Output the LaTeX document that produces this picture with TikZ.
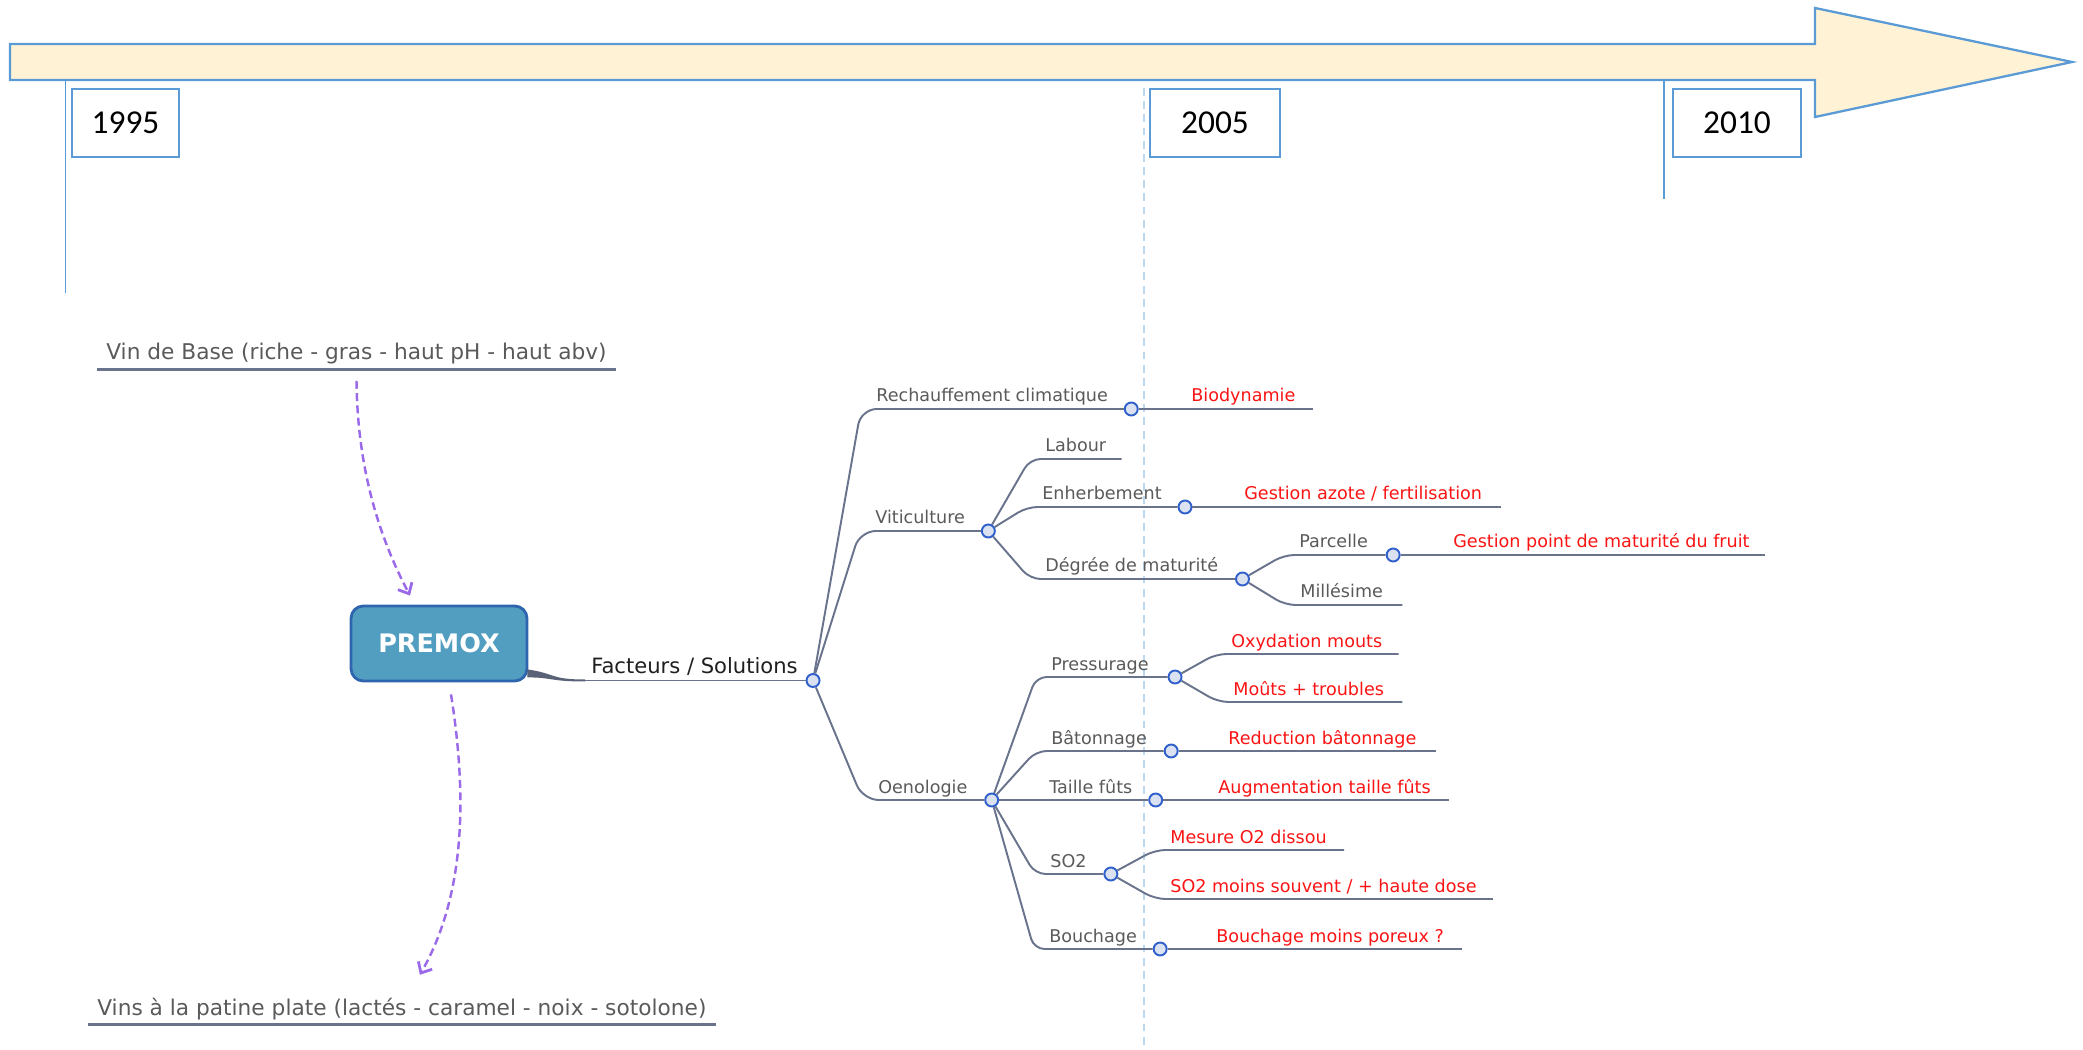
\documentclass[tikz,border=0pt]{standalone}
\usepackage{fontspec}
\setmainfont{DejaVu Sans}
\newfontfamily\yearfont{Carlito}
\usepackage{tikz}
\usetikzlibrary{
  	positioning,
  	arrows.meta,
  	calc
  }
\definecolor{lineblue}{HTML}{5B9BD5}
\definecolor{cream}{HTML}{FFF2D5}
\definecolor{paleblue}{HTML}{BDD7EE}
\definecolor{slate}{HTML}{69738C}
\definecolor{knotfill}{HTML}{DAE1F0}
\definecolor{knotline}{HTML}{3060CC}
\definecolor{boxfill}{HTML}{529EC0}
\definecolor{boxline}{HTML}{2F65AE}
\definecolor{txtgray}{HTML}{5A5A5A}
\definecolor{solred}{HTML}{FA1414}
\definecolor{flowviolet}{HTML}{9B6AE8}
\tikzstyle{knot}=[circle,fill=knotfill,draw=knotline,line width=1.1pt,inner sep=0pt,minimum size=0.26cm]
\tikzstyle{topic}=[anchor=base west,inner sep=0pt,text=txtgray,font=\fontsize{10}{12}\selectfont]
\tikzstyle{sol}=[topic,text=solred]
\tikzstyle{note}=[anchor=base west,inner xsep=0.18cm,inner ysep=0.09cm,text depth=0.1cm,text=txtgray,font=\fontsize{12.35}{14}\selectfont]
\tikzstyle{yearbox}=[draw=lineblue,line width=1.3pt,fill=white,minimum height=1.36cm,font=\yearfont\fontsize{19}{22}\selectfont]
\tikzstyle{branch}=[draw=slate,line width=1.1pt,rounded corners=6pt]
\tikzstyle{flow}=[draw=flowviolet,line width=1.4pt,dash pattern=on 4.5pt off 2.5pt,-{Straight Barb[length=5pt,width=9pt,line width=1.6pt]}]
\begin{document}
\begin{tikzpicture}[x=0.02cm,y=0.02cm]
    \useasboundingbox (0,0) rectangle (2083,-1050);
    % time line
    \draw[paleblue, line width=1pt, dash pattern=on 4.5pt off 3pt] (1144,-88) -- (1144,-1050);
    \draw[lineblue, fill=cream, line width=1.3pt]
       (10,-44) -- (1815,-44) -- (1815,-8) -- (2072,-62) --
       (1815,-117) -- (1815,-80) -- (10,-80) -- cycle;
    \draw[lineblue, line width=1.1pt] (65.5,-80) -- (65.5,-293);
    \draw[lineblue, line width=1.1pt] (1664,-80) -- (1664,-199);
    \node[yearbox, minimum width=2.14cm] (y1995) at (125.5,-123) {1995};
    \node[yearbox, minimum width=2.6cm] (y2005) at (1215,-123) {2005};
    \node[yearbox, minimum width=2.56cm] (y2010) at (1737,-123) {2010};
    % central topic and notes
    \node[draw=boxline, fill=boxfill, line width=1.6pt, rounded corners=7pt,
          minimum width=3.52cm, minimum height=1.5cm, text=white,
          font=\bfseries\fontsize{14.5}{16}\selectfont] (premox) at (439,-643.5) {PREMOX};
    \node[note] (vin) at (97,-360) {Vin de Base (riche - gras - haut pH - haut abv)};
    \draw[slate, line width=1.6pt] (vin.south west) -- (vin.south east);
    \node[note] (vins) at (88,-1015) {Vins à la patine plate (lactés - caramel - noix - sotolone)};
    \draw[slate, line width=1.6pt] (vins.south west) -- (vins.south east);
    \draw[flow] ($(vin.south)+(0,-11)$) .. controls +(1,-90) and +(-30,57) .. ($(premox.north)+(-29,9)$);
    \draw[flow] ($(premox.south)+(12,-12)$) .. controls +(17,-107) and +(44,77) .. ($(vins.north)+(18,18)$);
    % labels
    \node[topic, font=\fontsize{12}{14}\selectfont, text=black!88] (lfs) at (591,-673) {Facteurs / Solutions};
    \node[topic] (lrech) at (876,-402) {Rechauffement climatique};
    \node[sol] (lbio) at (1191,-402) {Biodynamie};
    \node[topic] (lviti) at (875,-524) {Viticulture};
    \node[topic] (llab) at (1045,-452) {Labour};
    \node[topic] (lenh) at (1042,-500) {Enherbement};
    \node[sol] (lazote) at (1244,-500) {Gestion azote / fertilisation};
    \node[topic] (ldeg) at (1045,-572) {Dégrée de maturité};
    \node[topic] (lparc) at (1299,-548) {Parcelle};
    \node[sol] (lpoint) at (1453,-548) {Gestion point de maturité du fruit};
    \node[topic] (lmill) at (1300,-598) {Millésime};
    \node[topic] (loeno) at (878,-793) {Oenologie};
    \node[topic] (lpress) at (1051,-670) {Pressurage};
    \node[sol] (loxy) at (1231,-647) {Oxydation mouts};
    \node[sol] (lmouts) at (1233,-695) {Moûts + troubles};
    \node[topic] (lbat) at (1051,-744) {Bâtonnage};
    \node[sol] (lred) at (1228,-744) {Reduction bâtonnage};
    \node[topic] (ltaille) at (1049,-793) {Taille fûts};
    \node[sol] (laug) at (1218,-793) {Augmentation taille fûts};
    \node[topic] (lso2) at (1050,-867) {SO2};
    \node[sol] (lmes) at (1170,-843) {Mesure O2 dissou};
    \node[sol] (lso2b) at (1170,-892) {SO2 moins souvent / + haute dose};
    \node[topic] (lbou) at (1049,-942) {Bouchage};
    \node[sol] (lbouch) at (1216,-942) {Bouchage moins poreux ?};
    % knots
    \path (lfs.base east)++(15,-7.5) node[knot] (hub) {};
    \path (lrech.base east)++(23,-7) node[knot] (rech) {};
    \path (lviti.base east)++(23,-7) node[knot] (viti) {};
    \path (lenh.base east)++(23,-7) node[knot] (enh) {};
    \path (ldeg.base east)++(24,-7) node[knot] (deg) {};
    \path (lparc.base east)++(25,-7) node[knot] (parc) {};
    \path (loeno.base east)++(24,-7) node[knot] (oeno) {};
    \path (lpress.base east)++(26,-7) node[knot] (press) {};
    \path (lbat.base east)++(24,-7) node[knot] (bat) {};
    \path (ltaille.base east)++(23,-7) node[knot] (taille) {};
    \path (lso2.base east)++(24,-7) node[knot] (so2) {};
    \path (lbou.base east)++(23,-7) node[knot] (bou) {};
    % trunk
    \coordinate (trunk) at ($(lfs.base west)+(-6,-7.5)$);
    \fill[slate!85!black] ($(premox.south east)+(-1,13)$) .. controls +(28,-4) and +(-35,0) .. ($(trunk)+(0,1)$)
       -- ($(trunk)+(0,-1)$) .. controls +(-35,0) and +(25,0) .. ($(premox.south east)+(-1,5)$) -- cycle;
    \draw[branch] (trunk) -- (hub);
    % branches
    \draw[branch, rounded corners=9pt] (hub) -- ($(lrech.base west)+(-15,-7)$) -- (rech);
    \draw[branch] (rech) -- ($(lbio.base east)+(17,-7)$);
    \draw[branch, rounded corners=9pt] (hub) -- ($(lviti.base west)+(-15,-7)$) -- (viti);
    \draw[branch] (viti) -- ($(llab.base west)+(-15,-7)$) -- ($(llab.base east)+(15,-7)$);
    \draw[branch] (viti) -- ($(lenh.base west)+(-15,-7)$) -- (enh);
    \draw[branch] (enh) -- ($(lazote.base east)+(19,-7)$);
    \draw[branch] (viti) -- ($(ldeg.base west)+(-15,-7)$) -- (deg);
    \draw[branch] (deg) -- ($(lparc.base west)+(-15,-7)$) -- (parc);
    \draw[branch] (parc) -- ($(lpoint.base east)+(15,-7)$);
    \draw[branch] (deg) -- ($(lmill.base west)+(-15,-7)$) -- ($(lmill.base east)+(19,-7)$);
    \draw[branch, rounded corners=9pt] (hub) -- ($(loeno.base west)+(-15,-7)$) -- (oeno);
    \draw[branch] (oeno) -- ($(lpress.base west)+(-15,-7)$) -- (press);
    \draw[branch] (press) -- ($(loxy.base west)+(-15,-7)$) -- ($(loxy.base east)+(16,-7)$);
    \draw[branch] (press) -- ($(lmouts.base west)+(-15,-7)$) -- ($(lmouts.base east)+(18,-7)$);
    \draw[branch] (oeno) -- ($(lbat.base west)+(-15,-7)$) -- (bat);
    \draw[branch] (bat) -- ($(lred.base east)+(19,-7)$);
    \draw[branch] (oeno) -- (taille);
    \draw[branch] (taille) -- ($(laug.base east)+(18,-7)$);
    \draw[branch] (oeno) -- ($(lso2.base west)+(-15,-7)$) -- (so2);
    \draw[branch] (so2) -- ($(lmes.base west)+(-15,-7)$) -- ($(lmes.base east)+(17,-7)$);
    \draw[branch] (so2) -- ($(lso2b.base west)+(-15,-7)$) -- ($(lso2b.base east)+(16,-7)$);
    \draw[branch] (oeno) -- ($(lbou.base west)+(-15,-7)$) -- (bou);
    \draw[branch] (bou) -- ($(lbouch.base east)+(18,-7)$);
  \end{tikzpicture}
\end{document}
